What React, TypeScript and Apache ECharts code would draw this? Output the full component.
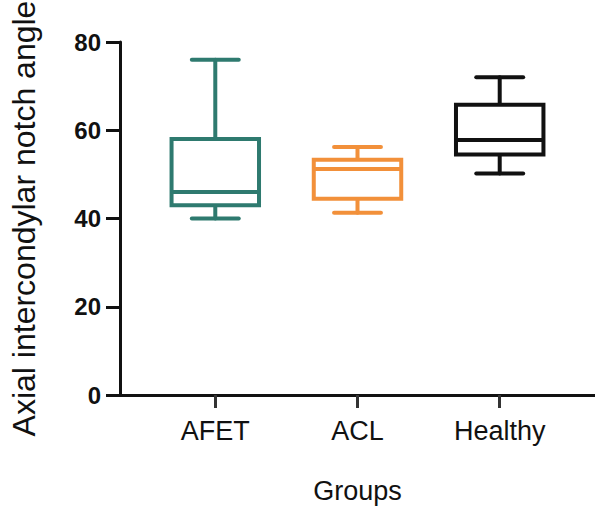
import React, { useEffect, useRef } from "react";
import * as echarts from "echarts";

const categories = ["AFET", "ACL", "Healthy"];
const mins = [40, 41.3, 50.2];
const q1s = [43, 44.5, 54.5];
const medians = [46, 51.2, 57.8];
const q3s = [58, 53.3, 65.8];
const maxs = [76, 56.2, 72];
const yTicks = [0, 20, 40, 60, 80];

const colors = ["#2e7a6f", "#f2903a", "#111111"];

export default function App() {
  const ref = useRef<HTMLDivElement>(null);
  useEffect(() => {
    if (!ref.current) return;
    const chart = echarts.init(ref.current, undefined, { renderer: "svg" });
    const data = categories.map((_, i) => [i + 1, mins[i], q1s[i], medians[i], q3s[i], maxs[i]]);
    const BOX_W = 0.615;
    const CAP_W = 0.33;
    chart.setOption({
      animation: false,
      textStyle: { fontFamily: "Liberation Sans, Arial, sans-serif" },
      grid: { left: 118, right: 0, top: 42, bottom: 107, containLabel: false },
      xAxis: {
        type: "value",
        min: 0.33,
        max: 3.67,
        name: "Groups",
        nameLocation: "middle",
        nameGap: 82,
        nameTextStyle: { fontSize: 27, color: "#111", fontFamily: "Liberation Sans, Arial, sans-serif" },
        splitLine: { show: false },
        axisLine: { show: true, lineStyle: { color: "#111", width: 3 } },
        axisTick: { show: true, customValues: [1, 2, 3], length: 13, lineStyle: { color: "#333", width: 3 } },
        axisLabel: {
          customValues: [1, 2, 3],
          formatter: (v: number) => categories[Math.round(v) - 1] ?? "",
          fontSize: 27,
          color: "#111",
          margin: 22,
        },
      },
      yAxis: {
        type: "value",
        min: yTicks[0],
        max: yTicks[yTicks.length - 1],
        interval: 20,
        name: "Axial intercondylar notch angle",
        nameLocation: "middle",
        nameGap: 80,
        nameTextStyle: { fontSize: 32, color: "#111", fontFamily: "Liberation Sans, Arial, sans-serif" },
        splitLine: { show: false },
        axisLine: { show: true, lineStyle: { color: "#111", width: 3 } },
        axisTick: { show: true, length: 14, lineStyle: { color: "#111", width: 3 } },
        axisLabel: { fontSize: 24, fontWeight: "bold", color: "#111", margin: 19 },
      },
      series: [
        {
          type: "custom",
          encode: { x: 0, y: [1, 2, 3, 4, 5] },
          data,
          renderItem: (params: any, api: any) => {
            const x = api.value(0);
            const color = colors[params.dataIndex];
            const pMin = api.coord([x, api.value(1)]);
            const pQ1 = api.coord([x, api.value(2)]);
            const pMed = api.coord([x, api.value(3)]);
            const pQ3 = api.coord([x, api.value(4)]);
            const pMax = api.coord([x, api.value(5)]);
            const hb = api.size([BOX_W, 0])[0] / 2;
            const hc = api.size([CAP_W, 0])[0] / 2;
            const cx = pMed[0];
            const st = { stroke: color, lineWidth: 4, fill: "none", lineCap: "round" };
            return {
              type: "group",
              children: [
                { type: "line", shape: { x1: cx, y1: pMax[1], x2: cx, y2: pQ3[1] }, style: st },
                { type: "line", shape: { x1: cx, y1: pQ1[1], x2: cx, y2: pMin[1] }, style: st },
                { type: "line", shape: { x1: cx - hc, y1: pMax[1], x2: cx + hc, y2: pMax[1] }, style: st },
                { type: "line", shape: { x1: cx - hc, y1: pMin[1], x2: cx + hc, y2: pMin[1] }, style: st },
                {
                  type: "rect",
                  shape: { x: cx - hb, y: pQ3[1], width: hb * 2, height: pQ1[1] - pQ3[1] },
                  style: { stroke: color, lineWidth: 4, fill: "#fff" },
                },
                { type: "line", shape: { x1: cx - hb, y1: pMed[1], x2: cx + hb, y2: pMed[1] }, style: { stroke: color, lineWidth: 4 } },
              ],
            };
          },
        },
      ],
    });
    return () => chart.dispose();
  }, []);
  return <div ref={ref} style={{ width: 595, height: 509, position: "absolute", left: 0, top: 0 }} />;
}
